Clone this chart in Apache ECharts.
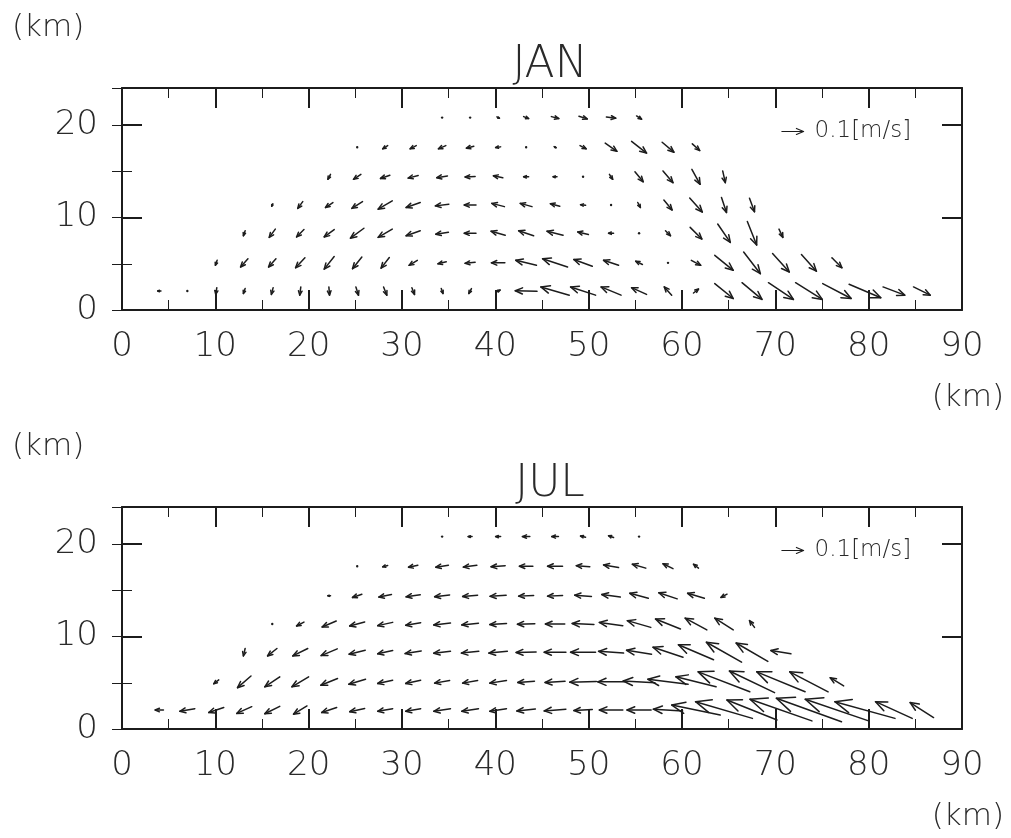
<!DOCTYPE html>
<html>
<head>
<meta charset="utf-8">
<script src="https://cdn.jsdelivr.net/npm/echarts@6/dist/echarts.min.js"></script>
<style>
  html, body { margin: 0; padding: 0; background: #fff; }
  #chart { width: 1011px; height: 838px; }
</style>
</head>
<body>
<div id="chart"></div>
<script>
// ---------------- data ----------------
// horizontal grid positions of the vectors (km)
const xs = [4.0, 7.0, 10.1, 13.1, 16.1, 19.1, 22.2, 25.2, 28.2, 31.2, 34.3, 37.3, 40.3, 43.3,
            46.4, 49.4, 52.4, 55.4, 58.5, 61.5, 64.5, 67.5, 70.6, 73.6, 76.6, 79.6, 82.7, 85.7];
// vertical grid positions (km)
const ys = [2.05, 5.1, 8.3, 11.35, 14.4, 17.6, 20.8];

const xTicks = [0, 10, 20, 30, 40, 50, 60, 70, 80, 90];
const yTicks = [0, 10, 20];

// JAN: horizontal component u (cm/s) and displayed vertical component w, rows bottom -> top
const janU = [
  [-1.5,-0.3,-0.5,-0.8,-0.8,-0.5,0.3,1.2,1.5,1.2,0.8,-1.2,1.8,-10,-13.1,-11.5,-9.2,-6.9,-3.4,2.3,8.5,9.2,11.5,12.3,13.1,14.6,10,7.7],
  [null,null,-0.8,-3.4,-3.4,-4.3,-4.6,-4.3,-3.8,-3.8,-3.8,-4.6,-6.2,-9.5,-11.5,-8.5,-6.9,-3.1,-0.5,4.3,8.5,7.7,7.7,6.9,4.6,null,null,null],
  [null,null,null,-0.8,-2.8,-3.4,-4.6,-6.2,-6.5,-6.5,-5.8,-5.4,-6.5,-6.9,-7.4,-4.9,-2.3,-0.3,2.3,5.4,5.8,4.3,1.8,null,null,null,null,null],
  [null,null,null,null,-0.5,-2.3,-3.4,-4.9,-6.5,-6.5,-6.2,-5.4,-5.8,-5.4,-4.3,-2.3,-0.5,1.2,3.8,5.8,2.3,2.3,null,null,null,null,null,null],
  [null,null,null,null,null,null,-1.2,-3.4,-4.3,-4.6,-4.9,-4.6,-4.3,-2.3,-1.8,-0.6,1.5,3.8,4.6,3.8,1.2,null,null,null,null,null,null,null],
  [null,null,null,null,null,null,null,-0.3,-2.3,-2.8,-3.4,-3.4,-2.3,-0.8,0.9,2.8,5.4,6.9,5.4,3.4,null,null,null,null,null,null,null,null],
  [null,null,null,null,null,null,null,null,null,null,-0.3,0.3,1.2,2.3,3.4,3.8,4.3,2.3,null,null,null,null,null,null,null,null,null,null]
];
const janW = [
  [0,-0.8,-3.1,-2.3,-3.1,-3.8,-3.8,-3.8,-3.8,-3.1,-2.3,-2.3,0.9,0.3,3.8,3.8,3.8,3.1,3.8,1.8,-6.9,-7.7,-7.7,-7.7,-6.9,-6.2,-3.8,-3.8],
  [null,null,-2.3,-3.8,-3.8,-4.6,-5.8,-5.4,-4.9,-2.3,-0.9,-0.5,0,2.3,3.8,3.1,2.3,1.5,0.5,-2.3,-6.9,-10,-8.5,-7.7,-4.6,null,null,null],
  [null,null,null,-2.3,-3.8,-3.4,-3.4,-4.6,-3.8,-2.3,-0.9,0,1.8,2.3,1.8,1.2,0,0,-2.3,-5.4,-8.5,-10.8,-3.8,null,null,null,null,null],
  [null,null,null,null,-1.2,-3.1,-2.3,-3.1,-3.8,-2.3,-0.8,0,1.5,1.5,1.2,0.3,0,-2.3,-4.6,-6.5,-6.9,-6.2,null,null,null,null,null,null],
  [null,null,null,null,null,null,-2.3,-2.3,-1.5,-1.2,-0.8,-0.2,0.9,0,0,0,-2.3,-4.6,-5.4,-6.9,-5.4,null,null,null,null,null,null,null],
  [null,null,null,null,null,null,null,-0.3,-1.5,-1.5,-1.5,-0.9,-0.3,0,-0.5,-1.5,-3.8,-5.4,-4.6,-3.1,null,null,null,null,null,null,null,null],
  [null,null,null,null,null,null,null,null,null,null,0,0,-0.6,-0.9,-0.9,-1.2,-0.5,-1.5,null,null,null,null,null,null,null,null,null,null]
];

// JUL
const julU = [
  [-3.8,-6.9,-6.9,-6.9,-6.9,-6.2,-6.9,-6.9,-6.9,-6.9,-7.7,-7.7,-7.7,-8.5,-10,-8.5,-10.8,-11.1,-13.5,-22.3,-26.2,-23.1,-28.5,-30,-29.2,-27.7,-16.9,-10.8],
  [null,null,-2.3,-6.2,-6.9,-7.7,-7.7,-7.7,-6.9,-6.9,-6.9,-6.9,-7.7,-7.7,-9.2,-12.3,-12.3,-14.6,-18.5,-18.5,-23.8,-20.8,-22.3,-17.7,-6.2,null,null,null],
  [null,null,null,-0.8,-4.3,-6.9,-7.4,-7.4,-6.9,-7.4,-7.7,-8,-8.5,-9.2,-10,-11.5,-11.5,-11.5,-13.8,-16.2,-16.2,-14.6,-9.2,null,null,null,null,null],
  [null,null,null,null,-0.3,-3.4,-6.5,-6.9,-6.9,-6.9,-7.7,-7.7,-7.7,-8,-8.9,-10,-10.8,-10.8,-11.5,-10,-8.5,-2.3,null,null,null,null,null,null],
  [null,null,null,null,null,null,-1.2,-4.3,-5.8,-6.5,-6.9,-6.9,-7.4,-6.9,-6.9,-7.7,-8.5,-8.5,-8.5,-7.7,-2.8,null,null,null,null,null,null,null],
  [null,null,null,null,null,null,null,-0.3,-2.3,-4.3,-5.8,-6.2,-6.5,-6.2,-6.9,-6.2,-6.9,-6.2,-4.6,-2.3,null,null,null,null,null,null,null,null],
  [null,null,null,null,null,null,null,null,null,null,-0.5,-1.8,-2.3,-3.4,-3.1,-2.3,-2.3,-0.8,null,null,null,null,null,null,null,null,null,null]
];
const julW = [
  [0,-1.2,-2.3,-3.1,-3.4,-3.8,-2.3,-1.5,-1.2,-1.2,-1.2,-1.2,-1.2,-0.9,-0.8,-0.5,0,0,0.8,4.6,7.7,9.2,10,10.8,10,7.7,7.7,6.9],
  [null,null,-1.8,-5.4,-4.6,-4.6,-3.1,-2.3,-1.5,-1.5,-1.2,-1.2,-1.2,-0.6,-0.6,-0.3,0,0.8,2.3,4.6,9.2,10,9.2,9.2,3.8,null,null,null],
  [null,null,null,-3.4,-3.4,-3.4,-3.1,-1.8,-1.5,-1.2,-0.9,-0.8,-0.8,-0.3,0,0,0.8,1.8,4.6,6.9,9.2,8.5,1.5,null,null,null,null,null],
  [null,null,null,null,-0.3,-1.8,-2.8,-1.8,-1.5,-1.2,-0.9,-0.8,-0.5,-0.2,0,0.5,1.5,3.1,4.6,5.4,5.4,3.1,null,null,null,null,null,null],
  [null,null,null,null,null,null,0,-1.5,-1.2,-0.9,-0.8,-0.6,-0.5,-0.3,-0.3,0.6,1.2,2.3,2.8,2.3,-1.5,null,null,null,null,null,null,null],
  [null,null,null,null,null,null,null,0,-0.6,-0.9,-0.9,-0.8,-0.5,0,0,0.5,1.2,1.8,2.3,1.8,null,null,null,null,null,null,null,null],
  [null,null,null,null,null,null,null,null,null,null,0,0,0,0,0,0.5,0.8,0.5,null,null,null,null,null,null,null,null,null,null]
];

// reference vector (tail position in km, speed in cm/s) and its label
const refVector = [70.7, 19.3, 10, 0];
const refLabel = '0.1[m/s]';
const panelTitles = ['JAN', 'JUL'];
const axisUnit = '(km)';

// ---------------- style ----------------
const FONT = '"DejaVu Sans ExtraLight", "DejaVu Sans Light", "DejaVu Sans", "Liberation Sans", sans-serif';
const INK = '#1c1c1c';
const TXT = '#2a2a2a';
const REF_PX = 21.7;              // on-screen length of the reference vector
const PX_PER_UNIT = REF_PX / refVector[2];
const GRIDS = [
  { left: 122, right: 49, top: 88, height: 222 },
  { left: 122, right: 49, top: 507, height: 222 }
];
const PANEL_DY = 419;

function buildData(U, W) {
  const out = [];
  for (let r = 0; r < ys.length; r++) {
    for (let k = 0; k < xs.length; k++) {
      if (U[r][k] !== null && U[r][k] !== undefined) out.push([xs[k], ys[r], U[r][k], W[r][k]]);
    }
  }
  return out;
}

function arrowShapes(x1, y1, x2, y2, lw) {
  const dx = x2 - x1, dy = y2 - y1;
  const len = Math.sqrt(dx * dx + dy * dy);
  const style = { stroke: INK, lineWidth: lw, fill: null, lineCap: 'round', lineJoin: 'round' };
  if (len < 2.2) {
    return [{ type: 'circle', shape: { cx: (x1 + x2) / 2, cy: (y1 + y2) / 2, r: 1.2 }, style: { fill: INK } }];
  }
  const h = Math.min(len * 0.6, len * 0.24 + 2.6);
  const ang = Math.atan2(dy, dx);
  const a = 23 * Math.PI / 180;
  const p1 = [x2 - h * Math.cos(ang - a), y2 - h * Math.sin(ang - a)];
  const p2 = [x2 - h * Math.cos(ang + a), y2 - h * Math.sin(ang + a)];
  return [
    { type: 'line', shape: { x1: x1, y1: y1, x2: x2, y2: y2 }, style: style },
    { type: 'polyline', shape: { points: [p1, [x2, y2], p2] }, style: style }
  ];
}

function renderVector(params, api) {
  const c = api.coord([api.value(0), api.value(1)]);
  const dx = api.value(2) * PX_PER_UNIT;
  const dy = -api.value(3) * PX_PER_UNIT;
  return { type: 'group', children: arrowShapes(c[0] - dx / 2, c[1] - dy / 2, c[0] + dx / 2, c[1] + dy / 2, 1.5) };
}

function renderRef(params, api) {
  const c = api.coord([api.value(0), api.value(1)]);
  const dx = api.value(2) * PX_PER_UNIT;
  const kids = arrowShapes(c[0], c[1], c[0] + dx, c[1], 1.1);
  kids.push({
    type: 'text',
    style: { text: refLabel, x: c[0] + dx + 11, y: c[1], font: '200 23px ' + FONT, fill: TXT, textAlign: 'left', textVerticalAlign: 'middle' }
  });
  return { type: 'group', children: kids };
}

// ---------------- axes ----------------
const xAxes = [], yAxes = [], series = [], graphics = [];
const tickLine = { color: INK, width: 2 };
const minorLine = { color: INK, width: 1 };
GRIDS.forEach(function (g, i) {
  ['bottom', 'top'].forEach(function (pos) {
    xAxes.push({
      gridIndex: i, type: 'value', position: pos, min: xTicks[0], max: xTicks[xTicks.length - 1],
      interval: xTicks[1] - xTicks[0],
      axisLine: { show: true, onZero: false, lineStyle: { color: INK, width: 2 } },
      axisTick: { show: true, inside: true, length: 20, lineStyle: tickLine },
      minorTick: { show: true, splitNumber: 2, length: 10, lineStyle: minorLine },
      splitLine: { show: false }, minorSplitLine: { show: false },
      axisLabel: { show: pos === 'bottom', margin: 20, fontSize: 34, fontWeight: 200, color: TXT, fontFamily: FONT }
    });
  });
  ['left', 'right'].forEach(function (pos) {
    yAxes.push({
      gridIndex: i, type: 'value', position: pos, min: 0, max: 24, interval: yTicks[1] - yTicks[0],
      axisLine: { show: true, onZero: false, lineStyle: { color: INK, width: 2 } },
      axisTick: { show: true, inside: true, length: 20, lineStyle: tickLine },
      splitLine: { show: false },
      axisLabel: { show: pos === 'left', showMaxLabel: false, margin: 24, fontSize: 34, fontWeight: 200, color: TXT, fontFamily: FONT }
    });
    yAxes.push({
      gridIndex: i, type: 'value', position: pos, min: 0, max: 24, interval: (yTicks[1] - yTicks[0]) / 2,
      axisLine: { show: false },
      axisTick: { show: true, inside: true, length: 10, lineStyle: minorLine },
      splitLine: { show: false },
      axisLabel: { show: false }
    });
  });
  series.push({
    type: 'custom', xAxisIndex: i * 2, yAxisIndex: i * 4, renderItem: renderVector,
    data: i === 0 ? buildData(janU, janW) : buildData(julU, julW),
    encode: { x: 0, y: 1 }, silent: true, clip: true
  });
  series.push({
    type: 'custom', xAxisIndex: i * 2, yAxisIndex: i * 4, renderItem: renderRef,
    data: [refVector], encode: { x: 0, y: 1 }, silent: true
  });
  const oy = i * PANEL_DY;
  graphics.push({ type: 'text', x: 550, y: 66 + oy, style: { text: panelTitles[i], font: '200 44px ' + FONT, fill: TXT, textAlign: 'center', textVerticalAlign: 'middle' } });
  graphics.push({ type: 'text', x: 12, y: 28 + oy, style: { text: axisUnit, font: '200 31px ' + FONT, fill: TXT, textAlign: 'left', textVerticalAlign: 'middle' } });
  graphics.push({ type: 'text', x: 1004, y: 398 + oy, style: { text: axisUnit, font: '200 31px ' + FONT, fill: TXT, textAlign: 'right', textVerticalAlign: 'middle' } });
});

const chart = echarts.init(document.getElementById('chart'), null, { renderer: 'canvas' });
chart.setOption({
  backgroundColor: '#ffffff',
  animation: false,
  grid: GRIDS,
  xAxis: xAxes,
  yAxis: yAxes,
  series: series,
  graphic: graphics
});
</script>
</body>
</html>
